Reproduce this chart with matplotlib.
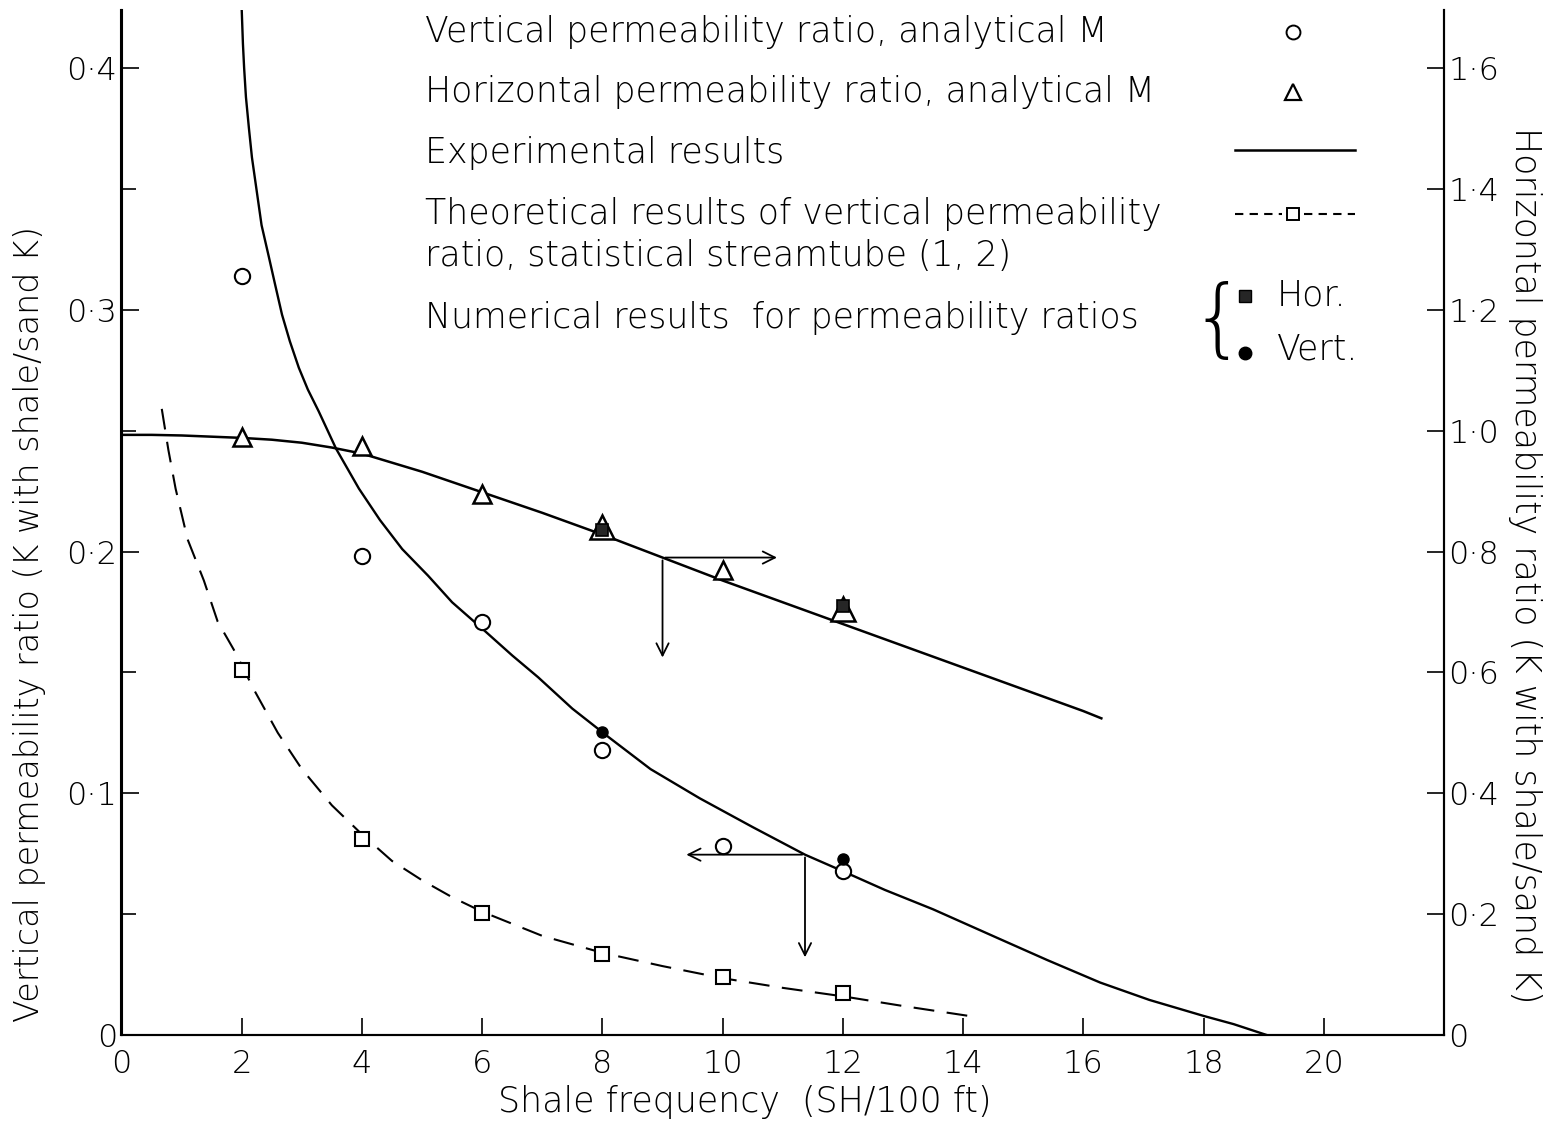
import numpy as np
import matplotlib.pyplot as plt
from matplotlib.lines import Line2D

plt.rcParams['font.family'] = ['DejaVu Sans']
plt.rcParams['font.weight'] = 'light'

# Datos
# Relacion de permeabilidad vertical, M analitico (circulos)
vert_x = [2, 4, 6, 8, 10, 12]
vert_y = [0.314, 0.198, 0.171, 0.118, 0.078, 0.068]

# Relacion de permeabilidad horizontal, M analitico (triangulos, eje derecho)
hor_x = [2, 4, 6, 8, 10, 12]
hor_y = [0.99, 0.975, 0.895, 0.84, 0.77, 0.705]
hor_size = [13, 13, 13, 17, 13, 17]

# Resultados teoricos, streamtube estadistico (cuadrados)
theo_x = [2, 4, 6, 8, 10, 12]
theo_y = [0.151, 0.081, 0.0504, 0.0333, 0.0238, 0.0175]
theo_curve_x = [0.67, 0.78, 0.9, 1.1, 1.37, 1.6, 1.9, 2.2, 2.6, 3.0, 3.5, 4.0,
                4.5, 5.0, 5.5, 6.0, 7.0, 8.0, 9.0, 10.0, 11.0, 12.0, 13.0, 14.2]
theo_curve_y = [0.259, 0.242, 0.226, 0.205, 0.188, 0.171, 0.158, 0.143, 0.125,
                0.11, 0.095, 0.083, 0.072, 0.064, 0.057, 0.051, 0.041, 0.034,
                0.0285, 0.0235, 0.0195, 0.016, 0.012, 0.0075]

# Resultados experimentales (lineas continuas)
exp_v_x = [2.0, 2.02, 2.04, 2.07, 2.12, 2.17, 2.25, 2.33, 2.45, 2.55, 2.67, 2.8,
           2.95, 3.1, 3.28, 3.57, 3.95, 4.3, 4.67, 5.1, 5.5, 6.05, 6.5, 6.93, 7.5,
           8.12, 8.8, 9.62, 10.5, 11.37, 11.95, 12.7, 13.5, 14.62, 15.4, 16.28,
           17.1, 18.0, 18.5, 19.05]
exp_v_y = [0.424, 0.41, 0.40, 0.388, 0.375, 0.363, 0.349, 0.335, 0.322, 0.311,
           0.298, 0.287, 0.276, 0.267, 0.258, 0.2425, 0.226, 0.213, 0.201, 0.19,
           0.179, 0.167, 0.157, 0.148, 0.135, 0.1229, 0.11, 0.0979, 0.086, 0.0746,
           0.0683, 0.06, 0.052, 0.0396, 0.031, 0.0217, 0.0145, 0.0079, 0.0045, 0.0]
exp_h_x = [0, 0.5, 1, 1.5, 2, 2.5, 3, 3.5, 4, 5, 6, 7, 8, 9, 10, 11, 12, 13, 14,
           15, 16, 16.3]
exp_h_y = [0.993, 0.993, 0.992, 0.990, 0.988, 0.985, 0.98, 0.972, 0.962, 0.932,
           0.898, 0.864, 0.828, 0.79, 0.752, 0.716, 0.68, 0.644, 0.608, 0.572,
           0.536, 0.524]

# Resultados numericos
num_h_x = [8, 12]
num_h_y = [0.836, 0.71]
num_v_x = [8, 12]
num_v_y = [0.1254, 0.073]

x_ticks = [0, 2, 4, 6, 8, 10, 12, 14, 16, 18, 20]
left_ticks = [0, 0.1, 0.2, 0.3, 0.4]
left_labels = ['0', '0·1', '0·2', '0·3', '0·4']
right_ticks = [0, 0.2, 0.4, 0.6, 0.8, 1.0, 1.2, 1.4, 1.6]
right_labels = ['0', '0·2', '0·4', '0·6', '0·8', '1·0', '1·2', '1·4', '1·6']

W, H = 1557, 1127
FS = 25      # leyenda
FT = 23      # ticks
FL = 25      # etiquetas de ejes


def P(px, py):
    return px / W, 1 - py / H


fig = plt.figure(figsize=(W / 100, H / 100), dpi=100)
ax = fig.add_axes([121.5 / W, 1 - 1035 / H, (1444 - 121.5) / W, (1035 - 10) / H])
ax2 = ax.twinx()

ax.set_xlim(0, 22)
ax.set_ylim(0, 0.424)
ax2.set_ylim(0, 0.424 * 4)

for a in (ax, ax2):
    a.spines['top'].set_visible(False)
    for s in a.spines.values():
        s.set_linewidth(1.5)

ax.set_xticks(x_ticks)
ax.set_xticklabels([str(t) for t in x_ticks])
ax.set_yticks(left_ticks)
ax.set_yticklabels(left_labels)
ax.set_yticks([0.05, 0.15, 0.25, 0.35], minor=True)
ax2.set_yticks(right_ticks)
ax2.set_yticklabels(right_labels)

ax.tick_params(axis='x', direction='in', length=12, width=1.2, pad=10, labelsize=FT)
ax.tick_params(axis='y', which='major', direction='in', length=12, width=1.2, pad=3, labelsize=FT)
ax.tick_params(axis='y', which='minor', direction='in', length=10, width=1.2)
ax2.tick_params(axis='y', direction='in', length=12, width=1.2, pad=3, labelsize=FT)

# curvas
ax.plot(exp_v_x, exp_v_y, color='black', lw=1.7)
ax.plot(theo_curve_x, theo_curve_y, color='black', lw=1.5, ls=(0, (10, 6)))
ax2.plot(exp_h_x, exp_h_y, color='black', lw=1.8)

# puntos
ax.plot(vert_x, vert_y, 'o', ms=11, mfc='white', mec='black', mew=1.5, ls='none')
ax.plot(theo_x, theo_y, 's', ms=10, mfc='white', mec='black', mew=1.5, ls='none')
for x, y, s in zip(hor_x, hor_y, hor_size):
    ax2.plot(x, y, '^', ms=s, mfc='white', mec='black', mew=1.8)
ax2.plot(num_h_x, num_h_y, 's', ms=8, mfc='0.15', mec='black', mew=1.2, ls='none')
ax.plot(num_v_x, num_v_y, 'o', ms=8, mfc='black', mec='black', ls='none')

# flechas
arr = dict(arrowstyle='->', lw=1.3, color='black', mutation_scale=22)
ax.annotate('', xy=(10.95, 0.1975), xytext=(9.0, 0.1975), arrowprops=arr)
ax.annotate('', xy=(9.0, 0.155), xytext=(9.0, 0.1975), arrowprops=arr)
ax.annotate('', xy=(9.35, 0.0746), xytext=(11.37, 0.0746), arrowprops=arr)
ax.annotate('', xy=(11.37, 0.031), xytext=(11.37, 0.0746), arrowprops=arr)

# leyenda
legend_rows = [
    ('Vertical permeability ratio, analytical M', 32),
    ('Horizontal permeability ratio, analytical M', 92),
    ('Experimental results', 153),
    ('Theoretical results of vertical permeability', 214),
    ('ratio, statistical streamtube (1, 2)', 256),
    ('Numerical results  for permeability ratios', 318),
]
for txt, py in legend_rows:
    fig.text(*P(425, py), txt, fontsize=FS, ha='left', va='center')

fig.add_artist(Line2D([P(1293, 32)[0]], [P(1293, 32)[1]], marker='o', ms=10,
                      mfc='white', mec='black', mew=1.4))
fig.add_artist(Line2D([P(1293, 92)[0]], [P(1293, 92)[1]], marker='^', ms=12,
                      mfc='white', mec='black', mew=1.6))
fig.add_artist(Line2D([P(1235, 150)[0], P(1355, 150)[0]], [P(1235, 150)[1]] * 2,
                      color='black', lw=1.8))
fig.add_artist(Line2D([P(1235, 214)[0], P(1282, 214)[0]], [P(1235, 214)[1]] * 2,
                      color='black', lw=1.5, ls=(0, (4, 3))))
fig.add_artist(Line2D([P(1304, 214)[0], P(1355, 214)[0]], [P(1235, 214)[1]] * 2,
                      color='black', lw=1.5, ls=(0, (4, 3))))
fig.add_artist(Line2D([P(1293, 214)[0]], [P(1293, 214)[1]], marker='s', ms=9,
                      mfc='white', mec='black', mew=1.4))
fig.text(*P(1218, 322), '{', fontsize=62, ha='center', va='center')
fig.add_artist(Line2D([P(1245, 296)[0]], [P(1245, 296)[1]], marker='s', ms=8,
                      mfc='0.15', mec='black'))
fig.add_artist(Line2D([P(1245, 353)[0]], [P(1245, 353)[1]], marker='o', ms=9,
                      mfc='black', mec='black'))
fig.text(*P(1277, 295), 'Hor.', fontsize=FS, ha='left', va='center')
fig.text(*P(1277, 350), 'Vert.', fontsize=FS, ha='left', va='center')

# etiquetas de ejes
fig.text(*P(745, 1102), 'Shale frequency  (SH/100 ft)', fontsize=FL,
         ha='center', va='center')
fig.text(*P(30, 624), 'Vertical permeability ratio (K with shale/sand K)',
         fontsize=24, ha='center', va='center', rotation=90)
fig.text(*P(1525, 565), 'Horizontal permeability ratio (K with shale/sand K)',
         fontsize=FL, ha='center', va='center', rotation=270)

fig.savefig('out.png', dpi=100)
